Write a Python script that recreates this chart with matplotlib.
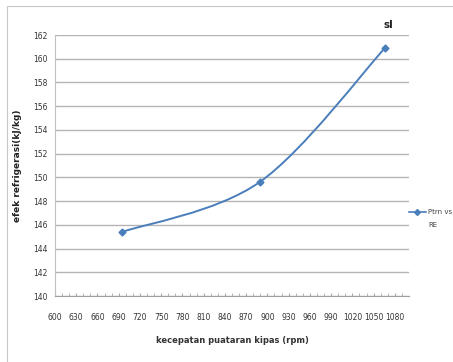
import numpy as np
import matplotlib.pyplot as plt
from matplotlib.path import Path
from matplotlib.patches import PathPatch, Rectangle

# data
rpm = [695, 889, 1066]
re_val = [145.4, 149.6, 160.9]
x_ticks = list(range(600, 1081, 30))
y_ticks = list(range(140, 163, 2))

line_col = '#4a7ebb'

fig = plt.figure(figsize=(4.53, 3.62), dpi=100)
ax = fig.add_axes([55/453, 1 - 296/362, (409-55)/453, (296-35)/362])

# outer chart frame (light gray)
fig.patches.append(Rectangle((7/453, -0.1), 1.2, 1 - 6/362 + 0.1, transform=fig.transFigure,
                             fill=False, edgecolor='#c8c8c8', lw=0.8))

# smoothed line like excel (bezier through the points)
pts = np.column_stack([rpm, re_val])
ext = np.vstack([pts[0], pts, pts[-1]])
verts = [tuple(pts[0])]
codes = [Path.MOVETO]
for i in range(len(pts) - 1):
    p0, p1, p2, p3 = ext[i], ext[i+1], ext[i+2], ext[i+3]
    c1 = p1 + (p2 - p0) / 6
    c2 = p2 - (p3 - p1) / 6
    verts += [tuple(c1), tuple(c2), tuple(p2)]
    codes += [Path.CURVE4] * 3
ax.add_patch(PathPatch(Path(verts, codes), fill=False, edgecolor=line_col, lw=1.4))
ax.plot(rpm, re_val, linestyle='none', marker='D', ms=3.5, color=line_col)

ax.set_xlim(600, 1100)
ax.set_ylim(140, 162)
ax.set_xticks(x_ticks)
ax.set_xticks(list(range(610, 1100, 10)), minor=True)
ax.set_yticks(y_ticks)
ax.tick_params(axis='both', labelsize=5.5, colors='#444444', length=0, pad=5)
ax.tick_params(axis='x', which='both', direction='in', length=2, color='#aaaaaa', labelcolor='#333333', pad=12)
ax.tick_params(axis='y', labelcolor='#333333')
ax.grid(axis='y', color='#b4b4b4', lw=1.0)
ax.set_axisbelow(True)
for s in ['top', 'right']:
    ax.spines[s].set_visible(False)
ax.spines['left'].set_color('#c0c0c0')
ax.spines['bottom'].set_color('#a0a0a0')
ax.spines['left'].set_linewidth(0.8)

ax.set_xlabel('kecepatan puataran kipas (rpm)', fontsize=6, fontweight='bold', color='#333333', labelpad=10)
ax.set_ylabel('efek refrigerasi(kJ/kg)', fontsize=6.5, fontweight='bold', color='#222222', labelpad=8)

# legend on right side
ly = 1 - 212/362
fig.add_artist(plt.Line2D([409/453, 417/453, 426/453], [ly, ly, ly], color=line_col, lw=1.2,
                          marker='D', ms=3, markevery=[1], transform=fig.transFigure))
fig.text(428/453, ly, 'Ptrn vs', fontsize=5, color='#444444', va='center')
fig.text(428/453, 1 - 225/362, 'RE', fontsize=5, color='#444444', va='center')

fig.text(383/453, 1 - 25/362, 'sl', fontsize=7.5, fontweight='bold', color='#222222', va='center')

fig.savefig('out.png', dpi=100)
